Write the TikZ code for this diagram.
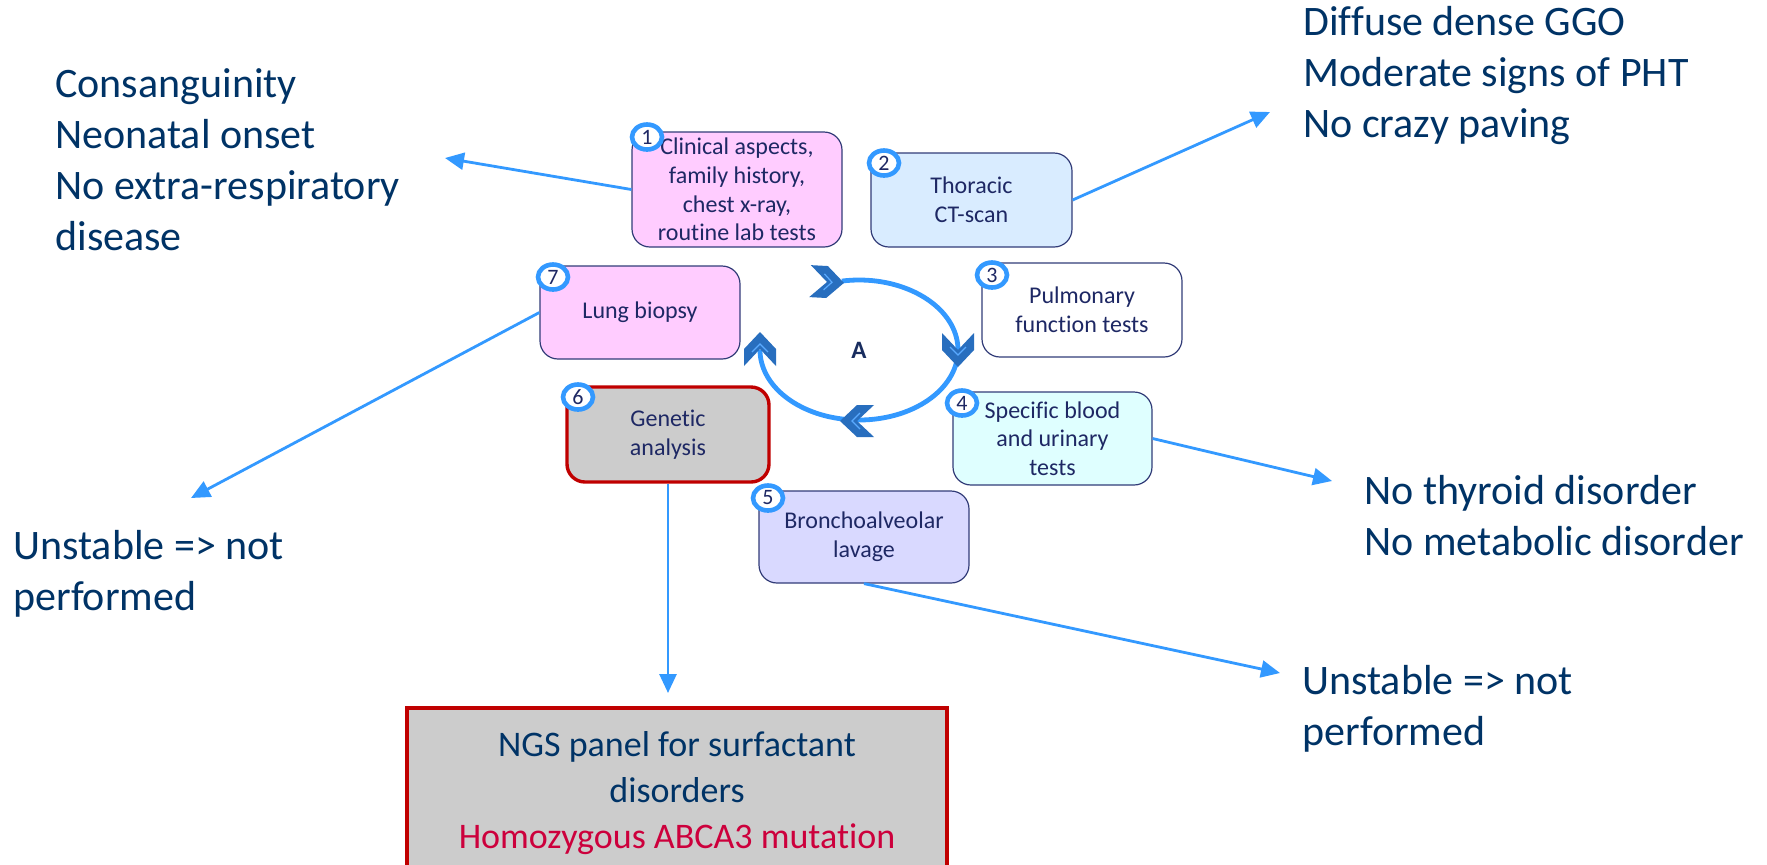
\documentclass[tikz,border=0pt]{standalone}
\usepackage{fontspec}
\setmainfont{Carlito}[Ligatures={NoCommon,NoRare}]
\usetikzlibrary{arrows.meta,shapes.geometric}
\definecolor{navy}{RGB}{0,51,102}
\definecolor{navyA}{RGB}{25,45,95}
\definecolor{boxtext}{RGB}{30,40,100}
\definecolor{boxline}{RGB}{50,60,120}
\definecolor{arrowblue}{RGB}{51,153,255}
\definecolor{chevdark}{RGB}{40,110,190}
\definecolor{chevlight}{RGB}{90,170,255}
\definecolor{pinkfill}{RGB}{255,204,255}
\definecolor{bluefill}{RGB}{217,236,255}
\definecolor{cyanfill}{RGB}{223,255,255}
\definecolor{lavfill}{RGB}{217,217,255}
\definecolor{grayfill}{RGB}{204,204,204}
\definecolor{redline}{RGB}{192,0,0}
\definecolor{redtext}{RGB}{204,0,60}
\begin{document}
\begin{tikzpicture}[x=0.5pt,y=-0.5pt,
  stepbox/.style={draw=boxline, line width=0.6pt, rounded corners=9pt, inner sep=1pt, align=center, text=boxtext, font=\fontsize{12}{14.3}\selectfont},
  numcirc/.style={ellipse, draw=arrowblue, line width=2.3pt, fill=white, minimum width=15pt, minimum height=12.5pt, inner sep=0pt, text=boxtext, font=\fontsize{11}{11}\selectfont},
  bigtext/.style={text=navy, align=left, inner sep=0pt, anchor=base west, font=\fontsize{21}{25.5}\selectfont},
  conn/.style={draw=arrowblue, line width=1.4pt, -{Triangle[length=9.5pt,width=8.5pt]}},
  chev/.pic={
    \fill[chevdark] (-17,-16) -- (0,-16) -- (17,0) -- (0,16) -- (-17,16) -- (0,0) -- cycle;
    \draw[chevlight, line width=0.6pt] (-3,-8) -- (5,0) -- (-3,8);
  }
]
\useasboundingbox (0,0) rectangle (1767,864);
\fill[white] (0,0) rectangle (1767,864);

% side texts (anchored at the baseline of their last line)
\node[bigtext] (tL) at (55,250) {Consanguinity\\Neonatal onset\\No extra-respiratory\\disease};
\node[bigtext] (tR) at (1303,137) {Diffuse dense GGO\\Moderate signs of PHT\\No crazy paving};
\node[bigtext] (tRM) at (1364,555) {No thyroid disorder\\No metabolic disorder};
\node[bigtext] (tBL) at (13,610) {Unstable => not\\performed};
\node[bigtext] (tBR) at (1302,745) {Unstable => not\\performed};

% cycle
\coordinate (cyc) at (859,350);
\draw[arrowblue, line width=2.4pt] ([shift={(-100:99 and 70)}]cyc) arc[start angle=-100, end angle=180, x radius=99, y radius=70];
\pic[rotate=-3] at (827,282) {chev};
\pic[rotate=-90] at (958,350) {chev};
\pic[rotate=180] at (857,421) {chev};
\pic[rotate=90] at (760,349) {chev};
\node[font=\bfseries\fontsize{12.5}{12.5}\selectfont, text=navyA] (lblA) at (cyc) {A};

% boxes
\node[stepbox, fill=pinkfill, minimum width=105pt, minimum height=57.5pt] (b1) at (737,189.5) {Clinical aspects,\\family history,\\chest x-ray,\\routine lab tests};
\node[stepbox, fill=bluefill, minimum width=100.5pt, minimum height=47pt] (b2) at (971.5,200) {Thoracic\\CT-scan};
\node[stepbox, fill=white, minimum width=100pt, minimum height=47pt] (b3) at (1082,310) {Pulmonary\\function tests};
\node[stepbox, fill=cyanfill, minimum width=99.5pt, minimum height=46.5pt] (b4) at (1052.5,438.5) {Specific blood\\and urinary\\tests};
\node[stepbox, fill=lavfill, minimum width=105pt, minimum height=46pt] (b5) at (864,537) {Bronchoalveolar\\lavage};
\node[stepbox, draw=redline, line width=1.7pt, fill=grayfill, minimum width=101pt, minimum height=47.5pt] (b6) at (668,434.5) {Genetic\\analysis};
\node[stepbox, fill=pinkfill, minimum width=100pt, minimum height=46.5pt] (b7) at (640,312.5) {Lung biopsy};

% number circles
\node[numcirc] (c1) at (647,137) {1};
\node[numcirc] (c2) at (884,163) {2};
\node[numcirc] (c3) at (992,275) {3};
\node[numcirc] (c4) at (962,403) {4};
\node[numcirc] (c5) at (768,498) {5};
\node[numcirc] (c6) at (578,397) {6};
\node[numcirc] (c7) at (553,277) {7};

% NGS box
\node[draw=redline, line width=1.6pt, fill=grayfill, minimum width=270pt, minimum height=85pt, align=center, inner sep=0pt, font=\fontsize{18}{23}\selectfont, text=navy] (ngs) at (677,793) {NGS panel for surfactant\\disorders\\\textcolor{redtext}{Homozygous ABCA3 mutation}};

% connectors
\coordinate (p1) at (445,158);
\coordinate (p2) at (1270,112);
\coordinate (p3) at (191,498);
\coordinate (p4) at (1332,481);
\coordinate (p5) at (1280,673);
\coordinate (p6) at (668,693);
\draw[conn] (b1.west) -- (p1);
\draw[conn] (b2.east) -- (p2);
\draw[conn] (b7.west) -- (p3);
\draw[conn] (b4.east) -- (p4);
\draw[conn] (b5.south) -- (p5);
\draw[conn] (b6.south) -- (p6);
\end{tikzpicture}
\end{document}
